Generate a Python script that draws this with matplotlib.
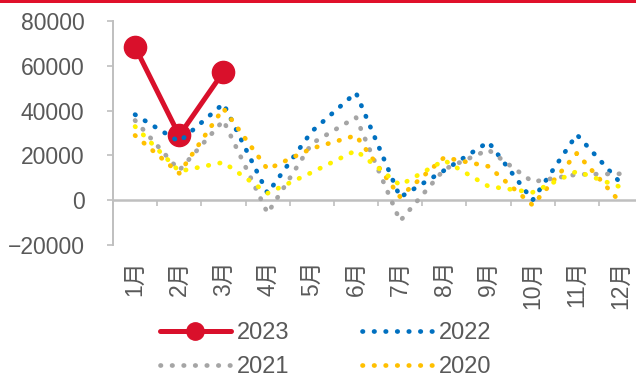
import matplotlib
matplotlib.use("Agg")
import matplotlib.pyplot as plt
from matplotlib.patches import Rectangle

# Month labels and monthly values per year
MONTHS = ["1月", "2月", "3月", "4月", "5月", "6月", "7月", "8月", "9月", "10月", "11月", "12月"]
Y2023 = [68400, 28900, 57300]
Y2022 = [38200, 26100, 43100, 3100, 30700, 48000, 1300, 13300, 26000, 0, 29300, 7500]
Y2021 = [35600, 13300, 35600, -5800, 25300, 37000, -9300, 13800, 22500, 8200, 11500, 11800]
Y2020 = [28900, 12000, 41000, 13800, 23100, 28900, 1500, 19100, 15100, -2200, 20900, -1200]
Y2019 = [32900, 12900, 16900, 3100, 12400, 22200, 6700, 17800, 6200, 3500, 12900, 5800]

TEXT = "#595959"
GRID = "#BFBFBF"
RED = "#D9102B"
FONT = ["Liberation Sans", "Noto Sans CJK SC"]
plt.rcParams["font.family"] = FONT

fig = plt.figure(figsize=(6.36, 3.74), dpi=100)
ax = fig.add_axes([113 / 636, 1 - 245 / 374, 530 / 636, 224 / 374])

x = [i + 0.5 for i in range(12)]

# dotted series: tiny dashes with round caps look like dots
dot = (0, (0.1, 2.35))
ax.plot(x[:len(Y2023)], Y2023, color=RED, lw=3.6, marker="o", ms=16,
        solid_capstyle="round", label="2023", zorder=2)
ax.plot(x, Y2022, color="#0070C0", lw=3.4, ls=dot, dash_capstyle="round",
        label="2022", zorder=3)
ax.plot(x, Y2021, color="#A5A5A5", lw=3.4, ls=dot, dash_capstyle="round",
        label="2021", zorder=3)
ax.plot(x, Y2020, color="#FFC000", lw=3.4, ls=dot, dash_capstyle="round",
        label="2020", zorder=3)
ax.plot(x, Y2019, color="#FFF200", lw=3.4, ls=dot, dash_capstyle="round",
        label="_2019", zorder=3)

ax.set_xlim(0, 12)
ax.set_ylim(-20000, 80000)
ax.set_yticks(range(-20000, 80001, 20000))
ax.tick_params(axis="y", direction="out", length=4.5, width=1.2, color=GRID,
               labelcolor=TEXT, labelsize=16.5, pad=16)

for s in ["top", "right", "bottom"]:
    ax.spines[s].set_visible(False)
ax.spines["left"].set_color(GRID)
ax.spines["left"].set_linewidth(1.4)

# month labels at the bottom of the plot area
ax.set_xticks(x)
ax.set_xticklabels(MONTHS, rotation=90)
ax.tick_params(axis="x", length=0, labelcolor=TEXT, labelsize=16.5, pad=11)

# category axis line through zero with boundary ticks
zero = ax.secondary_xaxis(0.2)
zero.set_xticks(range(13))
zero.set_xticklabels([])
zero.tick_params(direction="out", length=4.5, width=1.2, color=GRID)
zero.spines["bottom"].set_color(GRID)
zero.spines["bottom"].set_linewidth(1.8)

h, l = ax.get_legend_handles_labels()
order = [0, 2, 1, 3]
fig.legend([h[i] for i in order], [l[i] for i in order], ncol=2,
           loc="upper left", bbox_to_anchor=(160 / 636, 1 - 322 / 374),
           frameon=False, fontsize=17, labelcolor=TEXT, handlelength=3.0,
           handletextpad=0.25, columnspacing=3.1, labelspacing=0.5,
           borderpad=0, borderaxespad=0, markerscale=0.78)

# red bar on top of the figure
fig.add_artist(Rectangle((0, 1 - 2.5 / 374), 1, 2.5 / 374, transform=fig.transFigure,
                         color="#E0102A", lw=0))

fig.savefig("out.png", dpi=100)
